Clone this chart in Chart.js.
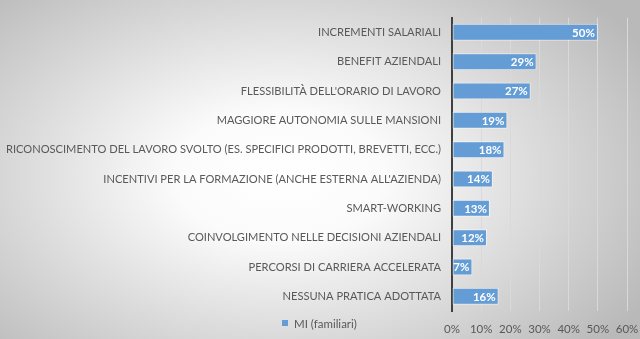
<!DOCTYPE html>
<html>
<head>
<meta charset="utf-8">
<script src="https://cdn.jsdelivr.net/npm/chart.js@4/dist/chart.umd.min.js"></script>
<style>
  html, body { margin: 0; padding: 0; background: #ffffff; }
  #wrap { position: relative; width: 640px; height: 339px; }
</style>
</head>
<body>
<div id="wrap"><canvas id="chart" width="640" height="339"></canvas></div>
<script>
// Practices adopted by companies – share of answers
const categories = [
  "INCREMENTI SALARIALI",
  "BENEFIT AZIENDALI",
  "FLESSIBILITÀ DELL'ORARIO DI LAVORO",
  "MAGGIORE AUTONOMIA SULLE MANSIONI",
  "RICONOSCIMENTO DEL LAVORO SVOLTO (ES. SPECIFICI PRODOTTI, BREVETTI, ECC.)",
  "INCENTIVI PER LA FORMAZIONE (ANCHE ESTERNA ALL'AZIENDA)",
  "SMART-WORKING",
  "COINVOLGIMENTO NELLE DECISIONI AZIENDALI",
  "PERCORSI DI CARRIERA ACCELERATA",
  "NESSUNA PRATICA ADOTTATA"
];
const seriesName = "MI (familiari)";
const seriesValues = [50, 29, 27, 19, 18, 14, 13, 12, 7, 16];
const xTicks = [0, 10, 20, 30, 40, 50, 60];

const FONT = "Lato, 'Open Sans', sans-serif";
const BAR_COLOR = "#649dd6";
const TEXT_GRAY = "#595959";

// Soft radial backdrop behind the whole chart
const backdrop = {
  id: "backdrop",
  beforeDraw(chart) {
    const { ctx, width, height } = chart;
    ctx.save();
    const cx = 280, cy = 175, rx = 420, ry = 260;
    ctx.translate(cx, cy);
    ctx.scale(1, ry / rx);
    const g = ctx.createRadialGradient(0, 0, 0, 0, 0, rx);
    g.addColorStop(0, "#ffffff");
    g.addColorStop(0.25, "#fbfbfb");
    g.addColorStop(1, "#b9b9b9");
    ctx.fillStyle = g;
    ctx.fillRect(-cx, -cy * rx / ry, width, height * rx / ry);
    ctx.restore();
  }
};

// Percentage written inside the end of each bar
const valueLabels = {
  id: "valueLabels",
  afterDatasetsDraw(chart) {
    const { ctx } = chart;
    const meta = chart.getDatasetMeta(0);
    const data = chart.data.datasets[0].data;
    ctx.save();
    ctx.font = "bold 11.5px " + FONT;
    ctx.fillStyle = "#ffffff";
    ctx.textAlign = "right";
    ctx.textBaseline = "middle";
    meta.data.forEach((bar, i) => {
      ctx.fillText(data[i] + "%", bar.x - 3, bar.y + 0.5);
    });
    ctx.restore();
  }
};

// Legend drawn on the tick-label row, left of the value axis labels
const inlineLegend = {
  id: "inlineLegend",
  afterDraw(chart) {
    const { ctx } = chart;
    const ds = chart.data.datasets[0];
    ctx.save();
    ctx.fillStyle = ds.backgroundColor;
    ctx.fillRect(282, 320, 6, 6);
    ctx.font = "11.5px " + FONT;
    ctx.fillStyle = TEXT_GRAY;
    ctx.textAlign = "left";
    ctx.textBaseline = "middle";
    ctx.fillText(ds.label, 294, 324);
    ctx.restore();
  }
};

new Chart(document.getElementById("chart"), {
  type: "bar",
  data: {
    labels: categories,
    datasets: [{
      label: seriesName,
      data: seriesValues,
      backgroundColor: BAR_COLOR,
      borderColor: "rgba(255,255,255,0.55)",
      borderWidth: 1,
      borderSkipped: false,
      barPercentage: 0.58,
      categoryPercentage: 1
    }]
  },
  options: {
    indexAxis: "y",
    responsive: false,
    animation: false,
    layout: { padding: { top: 16, right: 13, left: 0, bottom: 0 } },
    plugins: {
      legend: { display: false },
      tooltip: { enabled: false }
    },
    scales: {
      x: {
        min: 0,
        max: 60,
        afterBuildTicks(scale) {
          scale.ticks = xTicks.map(v => ({ value: v }));
        },
        afterFit(scale) {
          scale.height = 28;
          scale.paddingLeft = 0;
          scale.paddingRight = 0;
        },
        grid: { color: "#d9d9d9", lineWidth: 1, drawTicks: false },
        border: { display: false },
        ticks: {
          padding: 11,
          color: TEXT_GRAY,
          font: { family: FONT, size: 11.5 },
          callback: v => v + "%"
        }
      },
      y: {
        afterFit(scale) { scale.width = 452; },
        grid: { display: false, drawTicks: false },
        border: { display: true, color: "#404040", width: 2 },
        ticks: {
          padding: 11,
          color: TEXT_GRAY,
          font: { family: FONT, size: 11.1 }
        }
      }
    }
  },
  plugins: [backdrop, valueLabels, inlineLegend]
});
</script>
</body>
</html>
